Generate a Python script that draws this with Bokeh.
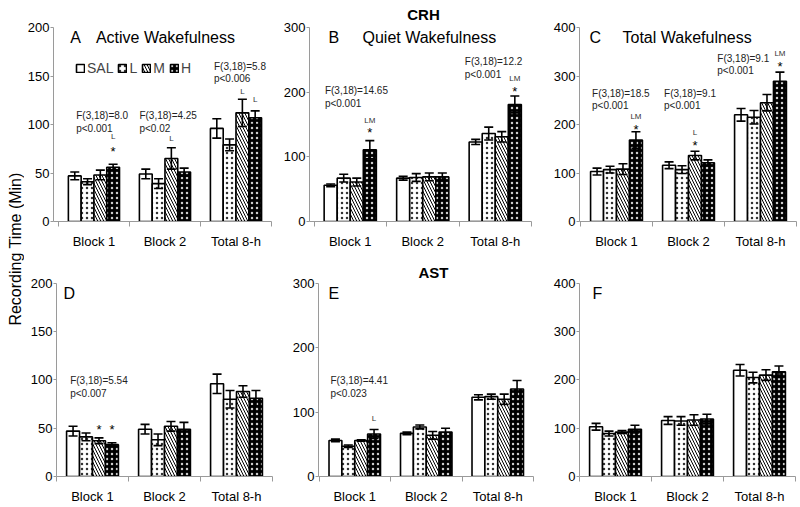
import math
from bokeh.plotting import figure
from bokeh.models import (ColumnDataSource, Whisker, TeeHead, FixedTicker,
                          Legend, LegendItem, Range1d)
from bokeh.layouts import row, column
from bokeh.embed import file_html
from bokeh.resources import INLINE
from bokeh.core.properties import value

FONT = "Liberation Sans"
GROUPS = ["Block 1", "Block 2", "Total 8-h"]
TREATS = ["SAL", "L", "M", "H"]

# means / SEM per treatment (SAL, L, M, H), each over GROUPS
A_means = [[47, 49, 96], [41, 39, 79], [48, 65, 112], [56, 51, 107]]
A_errs = [[4, 5, 10], [3, 5, 6], [5, 11, 14], [3, 4, 7]]
B_means = [[56, 67, 123], [67, 68, 136], [61, 69, 131], [111, 69, 181]]
B_errs = [[2, 3, 4], [6, 6, 10], [6, 6, 8], [14, 6, 13]]
C_means = [[103, 116, 220], [107, 107, 215], [108, 136, 245], [168, 121, 289]]
C_errs = [[7, 7, 13], [7, 8, 14], [11, 9, 17], [17, 6, 19]]
D_means = [[47, 49, 96], [41, 38, 80], [37, 52, 88], [33, 49, 81]]
D_errs = [[5, 5, 10], [4, 6, 9], [3, 5, 6], [2, 7, 8]]
E_means = [[56, 67, 123], [47, 77, 124], [56, 64, 120], [66, 69, 136]]
E_errs = [[2, 2, 4], [2, 3, 4], [1, 6, 8], [7, 6, 13]]
F_means = [[103, 116, 220], [89, 115, 205], [92, 117, 210], [98, 119, 217]]
F_errs = [[7, 8, 12], [5, 9, 11], [3, 11, 11], [8, 10, 12]]

# statistics text: (group, rel x, y of first line, line1, line2)
A_stats = [(0, -0.25, 109, "F(3,18)=8.0", "p<0.001"),
           (1, -0.36, 109, "F(3,18)=4.25", "p<0.02"),
           (2, -0.31, 160, "F(3,18)=5.8", "p<0.006")]
B_stats = [(0, -0.35, 202, "F(3,18)=14.65", "p<0.001"),
           (2, -0.42, 247, "F(3,18)=12.2", "p<0.001")]
C_stats = [(0, -0.34, 264, "F(3,18)=18.5", "p<0.001"),
           (1, -0.34, 264, "F(3,18)=9.1", "p<0.001"),
           (2, -0.60, 337, "F(3,18)=9.1", "p<0.001")]
D_stats = [(0, -0.31, 99, "F(3,18)=5.54", "p<0.007")]
E_stats = [(0, -0.34, 149, "F(3,18)=4.41", "p<0.023")]
F_stats = []

# significance marks: (group, treatment index, letters, star, star lift px, letters lift px)
A_marks = [(0, 3, "L", True, 16, 28), (1, 2, "L", False, 0, 9),
           (2, 2, "L", False, 0, 8), (2, 3, "L", False, 0, 11)]
B_marks = [(0, 3, "LM", True, 11, 20), (2, 3, "LM", True, 8, 18)]
C_marks = [(0, 3, "LM", True, 5, 15), (1, 2, "L", True, 9, 19), (2, 3, "LM", True, 9, 19)]
D_marks = [(0, 2, "", True, 11, 0), (0, 3, "", True, 16, 0)]
E_marks = [(0, 3, "L", False, 0, 11)]
F_marks = []

OFFS = [-0.27, -0.09, 0.09, 0.27]
BW = 0.18
AXC = "#9a9a9a"
PLOT_PX = 194  # pixel height of the 0..ymax span

STYLES = [
    dict(fill_color="white"),
    dict(fill_color="white", hatch_pattern="dot", hatch_color="black", hatch_scale=5,
         hatch_weight=0.1, hatch_alpha=0.8),
    dict(fill_color="white", hatch_pattern="left_diagonal_line", hatch_color="black", hatch_scale=6,
         hatch_weight=1.0),
    dict(fill_color="black", hatch_pattern="dot", hatch_color="white", hatch_scale=5,
         hatch_weight=0.1, hatch_alpha=0.8),
]


def panel(means, errs, ymax, step, stats, marks, letter, name, letter_px, name_px,
          bl, fw, cw, br, extra_top, bb, legend=False, header=None):
    dy = ymax / PLOT_PX
    dx = 1.0 / cw
    fh = PLOT_PX + extra_top
    x0 = 2.5 - fw * dx
    p = figure(width=bl + fw + br, height=fh + bb, x_range=Range1d(x0, 2.5),
               y_range=Range1d(0, ymax + extra_top * dy), toolbar_location=None,
               output_backend="svg", min_border_left=bl, min_border_right=br,
               min_border_top=0, min_border_bottom=bb)
    p.outline_line_color = None
    p.xgrid.visible = False
    p.ygrid.visible = False

    rends = []
    for i, t in enumerate(TREATS):
        xs = [g + OFFS[i] for g in range(3)]
        src = ColumnDataSource(dict(x=xs, top=means[i],
                                    lower=[m - e for m, e in zip(means[i], errs[i])],
                                    upper=[m + e for m, e in zip(means[i], errs[i])]))
        r = p.vbar(x="x", top="top", width=BW, source=src, line_color="black",
                   line_width=1.6, **STYLES[i])
        rends.append(r)
        w = Whisker(source=src, base="x", lower="lower", upper="upper", line_width=1.6,
                    line_color="black", level="overlay",
                    upper_head=TeeHead(size=9, line_width=1.6, line_color="black"),
                    lower_head=TeeHead(size=9, line_width=1.6, line_color="black"))
        p.add_layout(w)

    if stats:
        sx, sy, st = [], [], []
        for g, rx, y1, l1, l2 in stats:
            sx += [g + rx, g + rx]
            sy += [y1, y1 - 12.5 * dy]
            st += [l1, l2]
        p.text(x=sx, y=sy, text=st, text_font=value(FONT), text_font_size="10px",
               text_align="left", text_baseline="middle", text_color="#222222")

    if marks:
        lx, ly, lt, ax, ay = [], [], [], [], []
        for g, ti, letters, star, slift, llift in marks:
            x = g + OFFS[ti]
            top = means[ti][g] + errs[ti][g]
            if letters:
                lx.append(x); ly.append(top + llift * dy); lt.append(letters)
            if star:
                ax.append(x); ay.append(top + (slift - 3) * dy)
        if lt:
            p.text(x=lx, y=ly, text=lt, text_font=value(FONT), text_font_size="8px",
                   text_align="center", text_baseline="middle", text_color="#333333")
        if ax:
            p.text(x=ax, y=ay, text=["*"] * len(ax), text_font=value(FONT), text_font_size="13px",
                   text_align="center", text_baseline="middle", text_color="black")

    ty = ymax - 10 * dy
    p.text(x=[x0 + letter_px * dx], y=[ty], text=[letter], text_font=value(FONT),
           text_font_size="16px", text_align="left", text_baseline="middle", text_color="black")
    if name:
        p.text(x=[x0 + name_px * dx], y=[ty], text=[name], text_font=value(FONT),
               text_font_size="16px", text_align="left", text_baseline="middle", text_color="black")

    if header:
        htxt, hx, hlift = header
        p.text(x=[hx], y=[ymax + hlift * dy], text=[htxt], text_font=value(FONT),
               text_font_size="15px", text_font_style="bold", text_align="center",
               text_baseline="middle", text_color="black")

    xa = p.xaxis[0]
    xa.ticker = FixedTicker(ticks=[0, 1, 2], minor_ticks=[-0.5, 0.5, 1.5, 2.5])
    xa.major_label_overrides = {0: GROUPS[0], 1: GROUPS[1], 2: GROUPS[2]}
    xa.major_tick_line_color = None
    xa.major_tick_out = 5
    xa.major_tick_in = 0
    xa.minor_tick_out = 5
    xa.minor_tick_in = 0
    xa.minor_tick_line_color = AXC
    xa.axis_line_color = AXC
    xa.major_label_standoff = 7
    xa.major_label_text_font = FONT
    xa.major_label_text_font_size = "13px"
    xa.major_label_text_color = "black"

    ya = p.yaxis[0]
    ya.ticker = FixedTicker(ticks=list(range(0, ymax + 1, step)))
    ya.bounds = (0, ymax)
    ya.major_tick_out = 3
    ya.major_tick_in = 0
    ya.minor_tick_line_color = None
    ya.major_tick_line_color = AXC
    ya.axis_line_color = AXC
    ya.major_label_standoff = 1
    ya.major_label_text_font = FONT
    ya.major_label_text_font_size = "13px"
    ya.major_label_text_color = "black"

    if legend:
        items = [LegendItem(label=t, renderers=[r]) for t, r in zip(TREATS, rends)]
        lg = Legend(items=items, location=(22, 145), orientation="horizontal",
                    glyph_width=10, glyph_height=10, label_height=12, label_width=5,
                    label_standoff=2, spacing=4, padding=0, margin=0,
                    background_fill_alpha=0, border_line_alpha=0,
                    label_text_font=FONT, label_text_font_size="14px")
        p.add_layout(lg)
    return p


TOP_EXTRA, TOP_BB = 27, 30
BOT_EXTRA, BOT_BB = 32, 29

pA = panel(A_means, A_errs, 200, 50, A_stats, A_marks, "A", "Active Wakefulness", 17, 43,
           26, 221, 72, 3, TOP_EXTRA, TOP_BB, legend=True)
pB = panel(B_means, B_errs, 300, 100, B_stats, B_marks, "B", "Quiet Wakefulness", 19, 53,
           35, 222, 72.5, 3, TOP_EXTRA, TOP_BB, header=("CRH", 1.01, 13))
pC = panel(C_means, C_errs, 400, 100, C_stats, C_marks, "C", "Total Wakefulness", 10, 43,
           45, 217, 72, 4, TOP_EXTRA, TOP_BB)
pD = panel(D_means, D_errs, 200, 50, D_stats, D_marks, "D", "", 7, 0,
           32, 216, 72, 3, BOT_EXTRA, BOT_BB)
pE = panel(E_means, E_errs, 300, 100, E_stats, E_marks, "E", "", 10, 0,
           43, 215, 71.5, 3, BOT_EXTRA, BOT_BB, header=("AST", 1.10, 11))
pF = panel(F_means, F_errs, 400, 100, F_stats, F_marks, "F", "", 13, 0,
           43, 216, 72, 5, BOT_EXTRA, BOT_BB)

H_ALL = (PLOT_PX + TOP_EXTRA + TOP_BB) + (PLOT_PX + BOT_EXTRA + BOT_BB)
yl = figure(width=24, height=H_ALL, x_range=Range1d(0, 24), y_range=Range1d(0, H_ALL),
            toolbar_location=None, output_backend="svg", min_border=0,
            x_axis_type=None, y_axis_type=None)
yl.outline_line_color = None
yl.xgrid.visible = False
yl.ygrid.visible = False
yl.text(x=[15], y=[H_ALL - 248.5], text=["Recording Time (Min)"], angle=math.pi / 2,
        text_font=value(FONT), text_font_size="16px", text_align="center",
        text_baseline="middle", text_color="black")

layout = row(yl, column(row(pA, pB, pC), row(pD, pE, pF)))
open("out.html", "w").write(file_html(layout, INLINE))
